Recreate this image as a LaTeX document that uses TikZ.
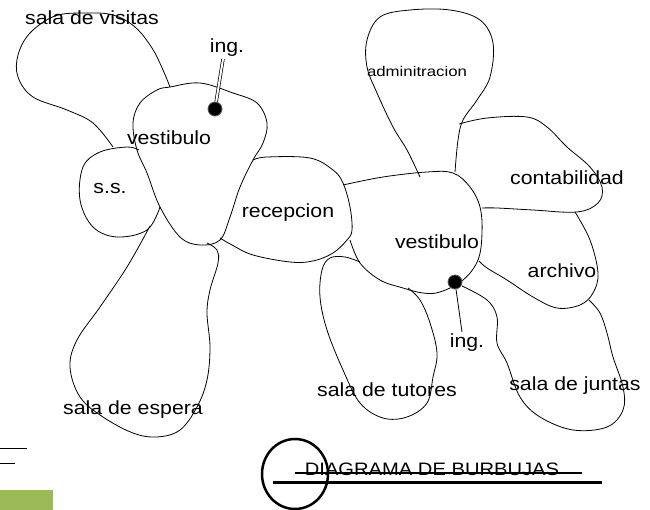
\documentclass[tikz,border=0pt]{standalone}
\usepackage{fontspec}
\setmainfont{Liberation Sans}
\newfontfamily\lblfont[FakeStretch=1.12]{Liberation Sans}
\newfontfamily\smallfont[FakeStretch=1.2]{Liberation Sans}
\newfontfamily\titlefont[FakeStretch=1.12]{Liberation Sans}
\definecolor{olivegreen}{HTML}{9BBB59}
\begin{document}
\begin{tikzpicture}[x=1pt,y=-1pt,
  blob/.style={draw=black,line width=0.8pt},
  lbl/.style={inner sep=0pt,font=\lblfont\fontsize{19}{19}\selectfont},
  smalllbl/.style={inner sep=0pt,font=\smallfont\fontsize{14}{14}\selectfont},
  titlelbl/.style={inner sep=0pt,anchor=base,font=\titlefont\fontsize{18}{18}\selectfont},
  ringdot/.style={circle,draw=gray!70!black,line width=0.8pt,fill=black,inner sep=0pt,minimum size=14pt}]
\useasboundingbox (0,0) rectangle (650,510);
\fill[white] (0,0) rectangle (650,510);

% vestibulo 1 (closed)
\draw[blob] plot[smooth cycle,tension=0.6] coordinates {(170,87) (200,83) (233,93) (257,103) (267,123) (263,143) (253,160) (240,187) (230,217) (220,240) (200,245) (180,237) (160,207) (147,173) (137,150) (133,123) (140,103) (157,90)};
% sala de visitas
\draw[blob] plot[smooth,tension=0.6] coordinates {(113,147) (93,123) (67,110) (33,97) (18,77) (18,55) (30,33) (55,16) (85,13) (113,15) (135,27) (152,48) (163,70) (170,87)};
% s.s.
\draw[blob] plot[smooth,tension=0.6] coordinates {(139,150) (127,147) (100,152) (83,167) (80,200) (93,227) (117,237) (147,230) (160,207)};
% recepcion
\draw[blob] plot[smooth,tension=0.6] coordinates {(253,160) (267,157) (310,158) (333,170) (343,183) (350,207) (352,230) (347,240) (333,253) (313,261) (290,262) (253,255) (232,245) (220,238)};
% sala de espera
\draw[blob] plot[smooth,tension=0.6] coordinates {(150,226) (127,267) (100,307) (77,340) (70,367) (80,397) (103,417) (133,433) (157,437) (180,430) (197,407) (207,380) (210,347) (207,313) (210,290) (218,263) (217,250) (207,243)};
% vestibulo 2
\draw[blob] plot[smooth,tension=0.6] coordinates {(343,185) (383,177) (427,172) (453,173) (470,187) (480,207) (482,233) (478,260) (463,280) (440,292) (423,293) (403,288) (380,280) (360,263) (350,240)};
% administracion
\draw[blob] plot[smooth,tension=0.6] coordinates {(420,177) (407,150) (393,127) (377,93) (367,67) (367,40) (380,17) (410,10) (450,10) (480,20) (493,43) (490,77) (477,100) (463,120) (458,140) (455,172)};
% contabilidad
\draw[blob] plot[smooth,tension=0.6] coordinates {(459,124) (487,118) (527,117) (547,127) (567,147) (590,167) (602,187) (598,203) (577,212) (533,210) (497,208) (482,208)};
% archivo
\draw[blob] plot[smooth,tension=0.6] coordinates {(575,212) (590,240) (598,273) (593,293) (580,305) (557,308) (533,297) (507,280) (487,268) (479,261)};
% sala de juntas
\draw[blob] plot[smooth,tension=0.6] coordinates {(462,286) (487,300) (497,317) (497,343) (507,363) (520,397) (540,417) (573,430) (607,427) (623,410) (623,387) (613,357) (607,333) (600,313) (589,300)};
% sala de tutores
\draw[blob] plot[smooth,tension=0.6] coordinates {(360,262) (345,257) (330,258) (322,270) (320,297) (327,330) (343,370) (360,403) (383,418) (407,417) (427,403) (433,377) (437,353) (430,323) (420,300) (408,288)};

% entrances
\node[ringdot] (d1) at (215,109) {};
\node[lbl] (i1) at (227,48) {ing.};
\coordinate (i1e) at (223,59);
\draw[double=white,double distance=2pt,line width=0.7pt] (d1) -- (i1e);
\node[ringdot] (d2) at (455,282) {};
\node[lbl] (i2) at (467,343) {ing.};
\coordinate (i2e) at (462,332);
\draw[line width=0.8pt] (d2) -- (i2e);

% labels
\node[lbl] (t1) at (92,18) {sala de visitas};
\node[lbl] (t2) at (169,138) {vestibulo};
\node[lbl] (t3) at (110,188) {s.s.};
\node[lbl] (t4) at (288,213) {recepcion};
\node[smalllbl] (t5) at (417,72) {adminitracion};
\node[lbl] (t6) at (567,178) {contabilidad};
\node[lbl] (t7) at (437,242) {vestibulo};
\node[lbl] (t8) at (562,271) {archivo};
\node[lbl] (t9) at (387,390) {sala de tutores};
\node[lbl] (t10) at (575,386) {sala de juntas};
\node[lbl] (t11) at (133,410) {sala de espera};

% title
\node[titlelbl] (title) at (432,475) {DIAGRAMA DE BURBUJAS};
\draw[line width=2.5pt] (295,474) circle[x radius=33,y radius=35];
\draw[line width=2pt] (295,472.5) -- (582,472.5);
\draw[line width=3pt] (273,482) -- (602,482);

% misc marks bottom-left
\draw[line width=0.8pt] (0,448) -- (27,448);
\draw[line width=0.8pt] (0,463) -- (15,463);
\fill[olivegreen] (0,490) rectangle (53,510);
\end{tikzpicture}
\end{document}
